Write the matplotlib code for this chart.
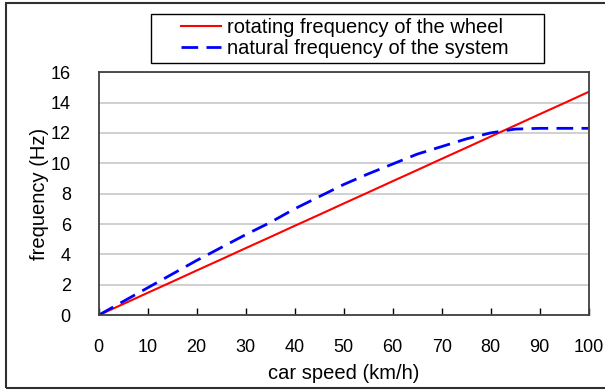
import matplotlib
matplotlib.use("Agg")
import matplotlib.pyplot as plt
from matplotlib.patches import Rectangle

plt.rcParams["font.family"] = ["Liberation Sans", "DejaVu Sans"]

# car speed (km/h)
speed = [0, 5, 10, 15, 20, 25, 30, 35, 40, 45, 50, 55, 60, 65, 70, 75, 80, 85, 90, 95, 100]
# rotating frequency of the wheel (Hz)
wheel_freq = [0, 0.73, 1.47, 2.20, 2.94, 3.67, 4.41, 5.14, 5.88, 6.61, 7.35,
              8.08, 8.82, 9.55, 10.29, 11.02, 11.76, 12.49, 13.23, 13.96, 14.70]
# natural frequency of the system (Hz)
natural_freq = [0, 0.9, 1.8, 2.7, 3.6, 4.45, 5.3, 6.1, 7.0, 7.8, 8.6,
                9.3, 9.95, 10.6, 11.1, 11.6, 12.0, 12.25, 12.3, 12.3, 12.3]

x_ticks = [0, 10, 20, 30, 40, 50, 60, 70, 80, 90, 100]
y_ticks = [0, 2, 4, 6, 8, 10, 12, 14, 16]

W, H = 605, 392
fig = plt.figure(figsize=(W / 100, H / 100), dpi=100)
ax = fig.add_axes([0.163, 0.196, 0.810, 0.620])

ax.plot(speed, wheel_freq, color="#ff0000", lw=1.5,
        label="rotating frequency of the wheel")
ax.plot(speed, natural_freq, color="#0000ff", lw=2.0, dashes=(6, 3),
        label="natural frequency of the system")

ax.set_xlim(0, 100)
ax.set_ylim(0, 16)
ax.set_xticks(x_ticks)
ax.set_yticks(y_ticks)
ax.tick_params(axis="x", direction="in", length=5, width=1, pad=17, labelsize=13)
ax.tick_params(axis="y", length=0, pad=20, labelsize=13)
ax.yaxis.grid(True, color="#c8c8c8", lw=1.2)
ax.set_axisbelow(True)
for s in ax.spines.values():
    s.set_color("#404040")
    s.set_linewidth(1.3)

ax.set_xlabel("car speed (km/h)", fontsize=14.5, labelpad=6)
ax.set_ylabel("frequency (Hz)", fontsize=14.5, labelpad=1)

# legend entries without their own frame; the box is drawn separately
fig.legend(loc="center", bbox_to_anchor=(0.570, 0.902), fontsize=14.5,
           frameon=False, handlelength=2.0, handletextpad=0.3,
           borderpad=0.25, labelspacing=0.1, borderaxespad=0)
fig.patches.append(Rectangle((151 / W, 1 - 63 / H), 393 / W, 49 / H,
                             transform=fig.transFigure, fill=False,
                             edgecolor="black", lw=1.0))

# outer frame around the chart area
fig.patches.append(Rectangle((6 / W, 4 / H), 1.0, 1 - 7 / H,
                             transform=fig.transFigure, fill=False,
                             edgecolor="#303030", lw=1.5, clip_on=False))

fig.savefig("out.png", dpi=100)
